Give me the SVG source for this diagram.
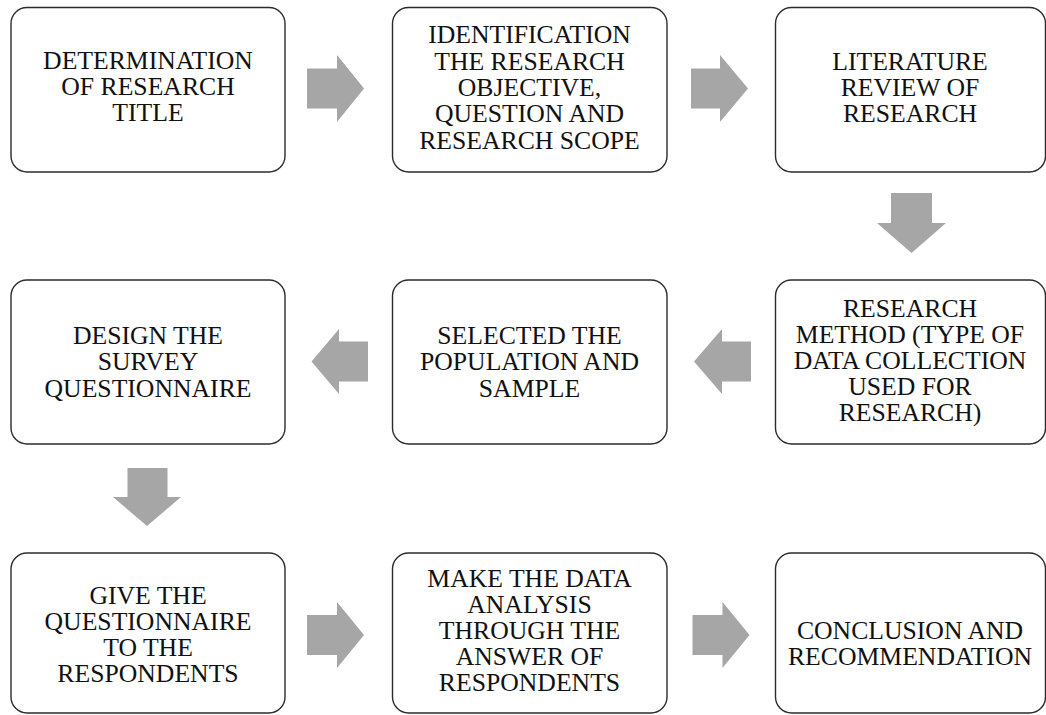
<svg xmlns="http://www.w3.org/2000/svg" width="1046" height="715" viewBox="0 0 1046 715">
<style>
.box{fill:#fff;stroke:#2b2b2b;stroke-width:1.4}
.t{font-family:"Liberation Serif","Times New Roman",serif;font-size:25.7px;fill:#111;text-anchor:middle}
.arr{fill:#a6a6a6}
</style>
<rect width="1046" height="715" fill="#fff"/>
<g id="connectors">
<polygon class="arr" points="307,68.5 337,68.5 337,55 364,88.5 337,122 337,108.5 307,108.5"/>
<polygon class="arr" points="691,68.5 720,68.5 720,55 748,88.5 720,122 720,108.5 691,108.5"/>
<polygon class="arr" points="891,193 932,193 932,223 946,223 911.5,253 877,223 891,223"/>
<polygon class="arr" points="368,341.5 339,341.5 339,329 311.5,361.5 339,394 339,381.5 368,381.5"/>
<polygon class="arr" points="751,341.5 722,341.5 722,329 694,361.5 722,394 722,381.5 751,381.5"/>
<polygon class="arr" points="127.5,468 167.5,468 167.5,497 181,497 147,526 113,497 127.5,497"/>
<polygon class="arr" points="307,615 337,615 337,602 364,635 337,668 337,655 307,655"/>
<polygon class="arr" points="692.5,615 722.5,615 722.5,602 749.5,635 722.5,668 722.5,655 692.5,655"/>
</g>
<g id="n1"><rect class="box" x="11" y="7.5" width="274" height="164.5" rx="16"/>
<text class="t" x="148"><tspan x="148" y="68.7">DETERMINATION</tspan><tspan x="148" y="95">OF RESEARCH</tspan><tspan x="148" y="121.3">TITLE</tspan></text></g>
<g id="n2"><rect class="box" x="392.5" y="7.5" width="274.5" height="164.5" rx="16"/>
<text class="t"><tspan x="529.5" y="43.3">IDENTIFICATION</tspan><tspan x="529.5" y="69.6">THE RESEARCH</tspan><tspan x="529.5" y="95.9">OBJECTIVE,</tspan><tspan x="529.5" y="122.2">QUESTION AND</tspan><tspan x="529.5" y="148.5">RESEARCH SCOPE</tspan></text></g>
<g id="n3"><rect class="box" x="775.5" y="7.5" width="270" height="164.5" rx="16"/>
<text class="t"><tspan x="910" y="69.5">LITERATURE</tspan><tspan x="910" y="96">REVIEW OF</tspan><tspan x="910" y="122">RESEARCH</tspan></text></g>
<g id="n4"><rect class="box" x="11" y="280" width="274" height="164" rx="16"/>
<text class="t"><tspan x="148" y="343.5">DESIGN THE</tspan><tspan x="148" y="370">SURVEY</tspan><tspan x="148" y="396.5">QUESTIONNAIRE</tspan></text></g>
<g id="n5"><rect class="box" x="392.5" y="280" width="274.5" height="164" rx="16"/>
<text class="t"><tspan x="529.5" y="343.5">SELECTED THE</tspan><tspan x="529.5" y="370">POPULATION AND</tspan><tspan x="529.5" y="396.5">SAMPLE</tspan></text></g>
<g id="n6"><rect class="box" x="775.5" y="280" width="270" height="164" rx="16"/>
<text class="t"><tspan x="910" y="317">RESEARCH</tspan><tspan x="910" y="343.3">METHOD (TYPE OF</tspan><tspan x="910" y="369.3">DATA COLLECTION</tspan><tspan x="910" y="395.3">USED FOR</tspan><tspan x="910" y="421.3">RESEARCH)</tspan></text></g>
<g id="n7"><rect class="box" x="11" y="553" width="274" height="160" rx="16"/>
<text class="t"><tspan x="148" y="603.5">GIVE THE</tspan><tspan x="148" y="630">QUESTIONNAIRE</tspan><tspan x="148" y="656">TO THE</tspan><tspan x="148" y="682.3">RESPONDENTS</tspan></text></g>
<g id="n8"><rect class="box" x="392.5" y="553" width="274.5" height="160" rx="16"/>
<text class="t"><tspan x="529.5" y="586.7">MAKE THE DATA</tspan><tspan x="529.5" y="612.7">ANALYSIS</tspan><tspan x="529.5" y="639">THROUGH THE</tspan><tspan x="529.5" y="665">ANSWER OF</tspan><tspan x="529.5" y="691">RESPONDENTS</tspan></text></g>
<g id="n9"><rect class="box" x="775.5" y="553" width="270" height="160" rx="16"/>
<text class="t"><tspan x="910" y="639">CONCLUSION AND</tspan><tspan x="910" y="665">RECOMMENDATION</tspan></text></g>
</svg>
